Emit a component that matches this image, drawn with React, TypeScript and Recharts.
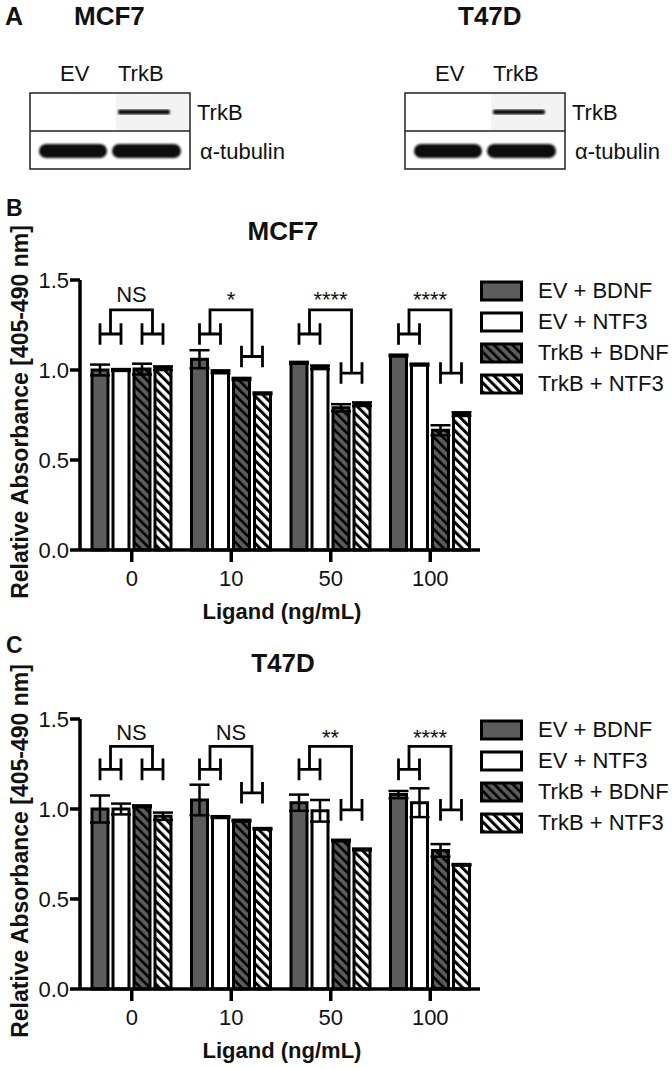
import { Bar, BarChart, ErrorBar, LabelList, Legend, XAxis, YAxis } from 'recharts';

const FONT = '"Liberation Sans", Arial, sans-serif';

const ligands = ['0', '10', '50', '100'];
const seriesNames = ['EV + BDNF', 'EV + NTF3', 'TrkB + BDNF', 'TrkB + NTF3'];

// MCF7 relative absorbance (mean / error)
const mcf7EvBdnf = [1.0, 1.06, 1.04, 1.08];
const mcf7EvBdnfErr = [0.03, 0.05, 0.005, 0.005];
const mcf7EvNtf3 = [1.0, 0.99, 1.015, 1.03];
const mcf7EvNtf3Err = [0.005, 0.008, 0.01, 0.005];
const mcf7TrkbBdnf = [1.005, 0.95, 0.79, 0.665];
const mcf7TrkbBdnfErr = [0.03, 0.006, 0.02, 0.028];
const mcf7TrkbNtf3 = [1.01, 0.87, 0.81, 0.755];
const mcf7TrkbNtf3Err = [0.01, 0.005, 0.01, 0.01];

// T47D relative absorbance (mean / error)
const t47dEvBdnf = [1.0, 1.05, 1.035, 1.08];
const t47dEvBdnfErr = [0.075, 0.085, 0.045, 0.02];
const t47dEvNtf3 = [1.0, 0.955, 0.99, 1.035];
const t47dEvNtf3Err = [0.03, 0.005, 0.06, 0.08];
const t47dTrkbBdnf = [1.015, 0.935, 0.825, 0.77];
const t47dTrkbBdnfErr = [0.005, 0.005, 0.004, 0.035];
const t47dTrkbNtf3 = [0.96, 0.89, 0.775, 0.69];
const t47dTrkbNtf3Err = [0.02, 0.004, 0.005, 0.004];

// significance annotations
const mcf7Sig = ['NS', '*', '****', '****'];
const mcf7RightLevel = [1.2, 1.075, 0.983, 0.983];
const t47dSig = ['NS', 'NS', '**', '****'];
const t47dRightLevel = [1.22, 1.09, 0.995, 0.995];

const FILLS = ['#5c5c5c', '#ffffff', 'url(#hatchDark)', 'url(#hatchWhite)'];
const BAR_SIZE = 16;
const BAR_GAP = 5;
const H_HALF = 0.06;

function bracketContent(
  sig: string[],
  leftLevel: number,
  rightLevel: number[],
  topLevel: number,
  textLevel: number,
  lastSeries: number[],
) {
  return (props: any) => {
    const vb = props.viewBox && props.viewBox.width != null ? props.viewBox : props;
    const { x, y, width, height } = vb;
    const i = props.index;
    const v = lastSeries[i];
    if (x == null || !v) return null;
    const base = y + height;
    const k = height / v;
    const py = (d: number) => base - d * k;
    const cx = (j: number) => x + width / 2 - (3 - j) * (width + BAR_GAP);
    const r = rightLevel[i];
    const lMid = (cx(0) + cx(1)) / 2;
    const rMid = (cx(2) + cx(3)) / 2;
    const d = [
      `M${cx(0)},${py(leftLevel + H_HALF)}V${py(leftLevel - H_HALF)}`,
      `M${cx(1)},${py(leftLevel + H_HALF)}V${py(leftLevel - H_HALF)}`,
      `M${cx(0)},${py(leftLevel)}H${cx(1)}`,
      `M${cx(2)},${py(r + H_HALF)}V${py(r - H_HALF)}`,
      `M${cx(3)},${py(r + H_HALF)}V${py(r - H_HALF)}`,
      `M${cx(2)},${py(r)}H${cx(3)}`,
      `M${lMid},${py(leftLevel)}V${py(topLevel)}H${rMid}V${py(r)}`,
    ].join('');
    const isStar = sig[i].startsWith('*');
    return (
      <g>
        <path d={d} stroke="#000" strokeWidth={2.8} fill="none" />
        <text
          x={(lMid + rMid) / 2}
          y={py(textLevel) + (isStar ? 13 : 8)}
          textAnchor="middle"
          fontFamily={FONT}
          fontSize={22}
          fill="#111"
        >
          {sig[i]}
        </text>
      </g>
    );
  };
}

function LegendBox() {
  return (
    <div style={{ fontFamily: FONT, fontSize: 22, color: '#111', lineHeight: 1 }}>
      {seriesNames.map((n, j) => (
        <div key={n} style={{ display: 'flex', alignItems: 'center', height: 31 }}>
          <svg width={44} height={22} style={{ marginRight: 14 }}>
            <rect x={1.5} y={2} width={40} height={18} fill={FILLS[j]} stroke="#000" strokeWidth={3} />
          </svg>
          <span style={{ whiteSpace: 'nowrap' }}>{n}</span>
        </div>
      ))}
    </div>
  );
}

interface PanelProps {
  top: number;
  values: number[][];
  errors: number[][];
  sig: string[];
  leftLevel: number;
  rightLevel: number[];
  topLevel: number;
  textLevel: number;
}

function AbsorbanceChart({ top, values, errors, sig, leftLevel, rightLevel, topLevel, textLevel }: PanelProps) {
  const data = ligands.map((l, i) => ({
    ligand: l,
    s0: values[0][i],
    e0: errors[0][i],
    s1: values[1][i],
    e1: errors[1][i],
    s2: values[2][i],
    e2: errors[2][i],
    s3: values[3][i],
    e3: errors[3][i],
  }));

  return (
    <div style={{ position: 'absolute', left: 0, top }}>
      <BarChart
        width={672}
        height={450}
        data={data}
        margin={{ top: 100, right: 192, bottom: 30, left: 0 }}
        barSize={BAR_SIZE}
        barGap={BAR_GAP}
      >
        <XAxis
          dataKey="ligand"
          height={50}
          padding={{ left: 2, right: 0 }}
          tickSize={12}
          tickMargin={8}
          axisLine={{ stroke: '#000', strokeWidth: 3.5 }}
          tickLine={{ stroke: '#000', strokeWidth: 3.5 }}
          tick={{ fontSize: 22, fill: '#111', fontFamily: FONT }}
          label={{
            content: (p: any) => {
              const vb = p.viewBox;
              return (
                <text
                  x={vb.x + vb.width / 2 + 2}
                  y={vb.y + 69}
                  textAnchor="middle"
                  fontFamily={FONT}
                  fontWeight="bold"
                  fontSize={22}
                  fill="#111"
                >
                  Ligand (ng/mL)
                </text>
              );
            },
          }}
        />
        <YAxis
          width={80}
          domain={[0, 1.5]}
          ticks={[0, 0.5, 1.0, 1.5]}
          tickFormatter={(v: number) => v.toFixed(1)}
          tickSize={10}
          tickMargin={1}
          axisLine={{ stroke: '#000', strokeWidth: 3.5 }}
          tickLine={{ stroke: '#000', strokeWidth: 3.5 }}
          tick={{ fontSize: 22, fill: '#111', fontFamily: FONT }}
          label={{
            content: (p: any) => {
              const vb = p.viewBox;
              const cy = vb.y + vb.height / 2 - 3;
              return (
                <text
                  x={28}
                  y={cy}
                  transform={`rotate(-90, 28, ${cy})`}
                  textAnchor="middle"
                  fontFamily={FONT}
                  fontWeight="bold"
                  fontSize={23}
                  fill="#111"
                >
                  Relative Absorbance [405-490 nm]
                </text>
              );
            },
          }}
        />
        <Legend
          layout="vertical"
          align="center"
          verticalAlign="middle"
          wrapperStyle={{ left: 480, top: 95, width: 192 }}
          content={() => <LegendBox />}
        />
        {[0, 1, 2, 3].map((j) => (
          <Bar
            key={j}
            dataKey={`s${j}`}
            name={seriesNames[j]}
            fill={FILLS[j]}
            stroke="#000"
            strokeWidth={3}
            isAnimationActive={false}
          >
            <ErrorBar dataKey={`e${j}`} width={10} stroke="#000" strokeWidth={2.5} isAnimationActive={false} />
            {j === 3 && (
              <LabelList
                dataKey="s3"
                content={bracketContent(sig, leftLevel, rightLevel, topLevel, textLevel, values[3])}
              />
            )}
          </Bar>
        ))}
      </BarChart>
    </div>
  );
}

function Blot({ x0, name }: { x0: number; name: string }) {
  // x0: left edge of blot box
  return (
    <g fontFamily={FONT} fill="#111">
      <text x={x0 + 30} y={81} fontSize={22}>EV</text>
      <text x={x0 + 88} y={81} fontSize={22}>TrkB</text>
      <rect x={x0 + 86} y={94} width={73} height={37} fill="#f3f3f3" />
      <rect x={x0} y={93} width={160} height={76} fill="none" stroke="#222" strokeWidth={1.5} />
      <line x1={x0} y1={131} x2={x0 + 160} y2={131} stroke="#222" strokeWidth={1.5} />
      <rect x={x0 + 88} y={109.5} width={52} height={5} rx={2} fill="#111" filter="url(#soft)" />
      <rect x={x0 + 9} y={144} width={68} height={14} rx={7} fill="#111" filter="url(#soft)" />
      <rect x={x0 + 82} y={144} width={69} height={14} rx={7} fill="#111" filter="url(#soft)" />
      <text x={x0 + 167} y={120} fontSize={22}>TrkB</text>
      <text x={x0 + 170} y={159} fontSize={22}>α-tubulin</text>
      <text x={x0 + (name === 'MCF7' ? 44 : 53)} y={25} fontSize={26} fontWeight="bold">{name}</text>
    </g>
  );
}

export default function App() {
  return (
    <div style={{ position: 'absolute', left: 0, top: 0, width: 672, height: 1069, background: '#fff', fontFamily: FONT }}>
      <svg width={0} height={0} style={{ position: 'absolute' }}>
        <defs>
          <pattern id="hatchDark" patternUnits="userSpaceOnUse" width={6.5} height={6.5} patternTransform="rotate(-45)">
            <rect width={6.5} height={6.5} fill="#5c5c5c" />
            <rect width={2.6} height={6.5} fill="#000" />
          </pattern>
          <pattern id="hatchWhite" patternUnits="userSpaceOnUse" width={6.5} height={6.5} patternTransform="rotate(-45)">
            <rect width={6.5} height={6.5} fill="#fff" />
            <rect width={3} height={6.5} fill="#000" />
          </pattern>
          <filter id="soft">
            <feGaussianBlur stdDeviation={0.8} />
          </filter>
        </defs>
      </svg>

      <svg width={672} height={175} style={{ position: 'absolute', left: 0, top: 0 }}>
        <text x={5} y={25} fontFamily={FONT} fontSize={25} fontWeight="bold" fill="#111">A</text>
        <Blot x0={30} name="MCF7" />
        <Blot x0={405} name="T47D" />
      </svg>

      <div style={{ position: 'absolute', left: 6, top: 197, fontSize: 23, fontWeight: 'bold', color: '#111', lineHeight: 1 }}>B</div>
      <div style={{ position: 'absolute', left: 0, width: 566, top: 218, textAlign: 'center', fontSize: 26, fontWeight: 'bold', color: '#111', lineHeight: 1 }}>MCF7</div>
      <AbsorbanceChart
        top={180}
        values={[mcf7EvBdnf, mcf7EvNtf3, mcf7TrkbBdnf, mcf7TrkbNtf3]}
        errors={[mcf7EvBdnfErr, mcf7EvNtf3Err, mcf7TrkbBdnfErr, mcf7TrkbNtf3Err]}
        sig={mcf7Sig}
        leftLevel={1.2}
        rightLevel={mcf7RightLevel}
        topLevel={1.334}
        textLevel={1.42}
      />

      <div style={{ position: 'absolute', left: 6, top: 634, fontSize: 23, fontWeight: 'bold', color: '#111', lineHeight: 1 }}>C</div>
      <div style={{ position: 'absolute', left: 0, width: 566, top: 650, textAlign: 'center', fontSize: 26, fontWeight: 'bold', color: '#111', lineHeight: 1 }}>T47D</div>
      <AbsorbanceChart
        top={619}
        values={[t47dEvBdnf, t47dEvNtf3, t47dTrkbBdnf, t47dTrkbNtf3]}
        errors={[t47dEvBdnfErr, t47dEvNtf3Err, t47dTrkbBdnfErr, t47dTrkbNtf3Err]}
        sig={t47dSig}
        leftLevel={1.22}
        rightLevel={t47dRightLevel}
        topLevel={1.348}
        textLevel={1.43}
      />
    </div>
  );
}
